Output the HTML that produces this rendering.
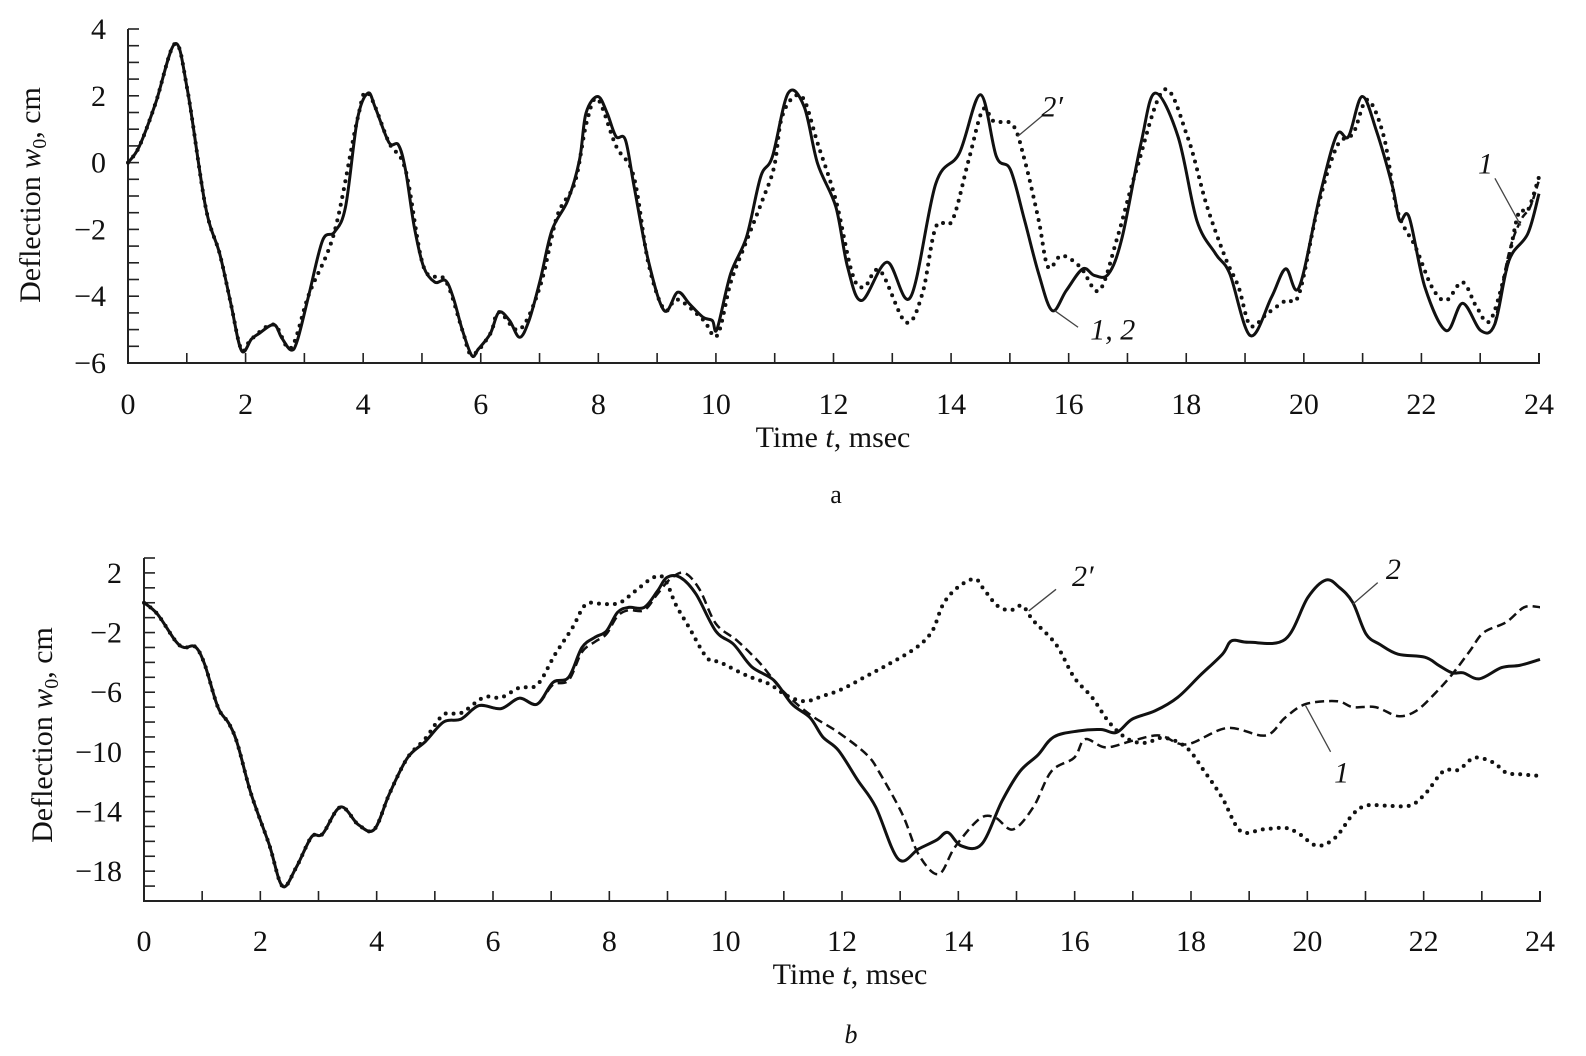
<!DOCTYPE html>
<html><head><meta charset="utf-8">
<style>
html,body{margin:0;padding:0;background:#fff;}
svg{display:block;}
text{font-family:"Liberation Serif",serif;fill:#111;}
</style></head>
<body>
<svg id="fig" width="1586" height="1056" viewBox="0 0 1586 1056" xmlns="http://www.w3.org/2000/svg">
<g id="chartA"></g>
<g id="chartB"></g>
</svg>
<script>
// ---------- Chart a data ----------
const aSolidT=[0,.19,.47,.8,1.01,1.32,1.56,1.75,1.93,2.1,2.22,2.48,2.61,2.77,2.88,3.08,3.31,3.51,3.7,3.9,4.08,4.21,4.44,4.6,4.72,4.87,5.03,5.22,5.4,5.53,5.69,5.85,5.96,6.16,6.31,6.49,6.66,6.82,7.01,7.21,7.48,7.68,7.79,7.99,8.15,8.3,8.46,8.61,8.85,9.12,9.35,9.55,9.78,9.94,10.02,10.25,10.52,10.76,10.96,11.23,11.5,11.73,12.04,12.24,12.48,12.91,13.31,13.74,14.14,14.5,14.77,15.01,15.25,15.49,15.72,15.96,16.24,16.44,16.68,16.91,17.23,17.47,17.86,18.18,18.5,18.74,19.09,19.45,19.69,19.92,20.28,20.56,20.76,20.99,21.23,21.51,21.63,21.79,22.06,22.42,22.7,23.01,23.25,23.49,23.81,24];
const aSolidW=[0,.48,1.78,3.56,2.18,-1.33,-2.73,-4.23,-5.63,-5.28,-5.13,-4.85,-5.23,-5.61,-5.33,-3.93,-2.33,-2.08,-1.33,1.28,2.08,1.63,.6,.53,-.22,-1.93,-3.13,-3.58,-3.53,-4.03,-5.03,-5.78,-5.58,-5.13,-4.48,-4.73,-5.23,-4.73,-3.53,-2.03,-1.13,.08,1.48,1.98,1.48,.78,.68,-.73,-2.93,-4.43,-3.88,-4.23,-4.63,-4.73,-4.98,-3.33,-2.23,-.43,.18,2.08,1.68,-.03,-1.33,-3.13,-4.13,-2.98,-4.03,-.63,.28,2.03,.18,-.22,-1.73,-3.33,-4.43,-3.83,-3.18,-3.38,-3.33,-2.23,.58,2.08,.78,-1.73,-2.73,-3.33,-5.18,-4.03,-3.18,-3.73,-.93,.83,.78,1.98,.98,-.73,-1.73,-1.63,-3.73,-5.03,-4.21,-5.03,-4.83,-2.93,-2.13,-.93];
const aDashT=[23.25,23.49,23.69,23.85,24];
const aDashW=[-4.83,-2.7,-1.73,-1.33,-.53];
const aDotT=[0,.19,.47,.8,1.01,1.32,1.56,1.75,1.93,2.1,2.48,2.77,3.08,3.51,3.9,4.08,4.44,4.72,5.03,5.4,5.69,5.85,6.16,6.31,6.66,7.01,7.3,7.6,7.8,7.99,8.3,8.6,8.85,9.12,9.35,9.78,10.02,10.25,10.48,10.79,10.99,11.11,11.3,11.5,11.73,12.04,12.32,12.52,12.79,13.23,13.51,13.74,14.02,14.3,14.54,14.73,15.05,15.25,15.49,15.65,15.88,16.2,16.52,16.83,17.15,17.62,18.02,18.34,18.66,18.89,19.09,19.37,19.69,19.92,20.24,20.56,20.84,21.08,21.36,21.59,21.9,22.18,22.42,22.7,22.94,23.17,23.45,23.65,23.81,24];
const aDotW=[0,.48,1.78,3.56,2.18,-1.33,-2.73,-4.23,-5.6,-5.28,-4.85,-5.55,-3.93,-2.08,1.28,2.08,.6,-.22,-3.13,-3.53,-5.03,-5.75,-5.13,-4.48,-5.0,-3.7,-1.6,-.6,1.2,1.9,.5,-.4,-3.0,-4.4,-4.1,-4.7,-5.18,-3.6,-2.53,-1.13,-.13,1.28,1.93,1.88,.58,-1.13,-3.33,-3.73,-3.23,-4.78,-3.93,-1.93,-1.73,.08,1.58,1.23,1.13,.08,-1.73,-3.13,-2.78,-3.13,-3.83,-2.23,-.23,2.18,.78,-1.23,-2.83,-3.73,-4.88,-4.53,-4.13,-3.93,-1.33,.48,.88,1.88,.78,-1.43,-2.53,-3.73,-4.13,-3.58,-4.33,-4.73,-3.13,-1.53,-1.43,-.43];
const aYTicks=[4,2,0,-2,-4,-6];
const aXTicks=[0,2,4,6,8,10,12,14,16,18,20,22,24];

// ---------- Chart b data ----------
const bSolidT=[0,.23,.54,.69,.88,1.04,1.27,1.46,1.61,1.84,2.15,2.38,2.61,2.88,3.07,3.38,3.69,3.96,4.22,4.53,4.84,5.15,5.45,5.76,6.14,6.45,6.76,7.03,7.3,7.53,7.76,7.95,8.14,8.33,8.6,8.83,8.99,9.22,9.49,9.83,10.14,10.45,10.83,11.14,11.45,11.67,11.94,12.27,12.58,12.97,13.32,13.63,13.82,14.05,14.4,14.75,15.06,15.37,15.64,16.06,16.45,16.72,16.99,17.38,17.77,18.15,18.54,18.7,19,19.62,20.01,20.32,20.55,20.78,21.01,21.25,21.56,22.02,22.26,22.49,22.68,22.96,23.34,23.65,24];
const bSolidW=[0,-.76,-2.55,-3,-2.95,-4.1,-7,-8.1,-9.5,-12.8,-16.2,-19,-17.8,-15.7,-15.5,-13.7,-14.9,-15.2,-12.8,-10.4,-9.3,-8,-7.8,-6.9,-7.1,-6.4,-6.8,-5.35,-5,-3,-2.3,-1.9,-.65,-.31,-.31,.8,1.7,1.7,.58,-1.9,-2.8,-4.3,-5.2,-6.8,-7.7,-9,-9.9,-11.9,-13.7,-17.2,-16.5,-15.9,-15.4,-16.3,-16.2,-13.3,-11.3,-10.2,-9,-8.6,-8.5,-8.7,-7.8,-7.25,-6.35,-4.9,-3.45,-2.55,-2.65,-2.45,.36,1.52,1.03,.02,-2.1,-2.8,-3.45,-3.65,-4.2,-4.7,-4.7,-5.1,-4.35,-4.2,-3.8];
const bDashT=[0,.23,.54,.69,.88,1.04,1.27,1.46,1.61,1.84,2.15,2.38,2.61,2.88,3.07,3.38,3.69,3.96,4.22,4.53,4.84,5.15,5.45,5.76,6.14,6.45,6.76,7.03,7.3,7.53,7.76,7.95,8.14,8.33,8.6,8.83,9.05,9.29,9.55,9.83,10.2,10.6,10.98,11.45,11.94,12.43,12.66,13.04,13.32,13.66,13.94,14.36,14.63,14.94,15.29,15.6,15.99,16.18,16.53,17,17.46,17.92,18.62,19.28,19.62,19.97,20.51,20.78,21.17,21.56,21.87,22.19,22.49,22.8,23.03,23.42,23.73,24];
const bDashW=[0,-.76,-2.55,-3,-2.95,-4.1,-7,-8.1,-9.5,-12.8,-16.2,-19,-17.8,-15.7,-15.5,-13.7,-14.9,-15.2,-12.8,-10.4,-9.3,-8,-7.8,-6.9,-7.1,-6.4,-6.8,-5.5,-5.2,-3.3,-2.6,-2.1,-.9,-.5,-.5,.6,1.6,2.0,.9,-1.4,-2.55,-4.1,-5.9,-7.5,-8.7,-10.2,-11.5,-14.2,-16.9,-18.2,-16.4,-14.5,-14.4,-15.2,-13.7,-11.3,-10.4,-9.15,-9.7,-9.25,-8.9,-9.5,-8.4,-8.9,-7.7,-6.8,-6.6,-7,-7,-7.6,-7.25,-6.1,-4.8,-3.2,-2,-1.3,-.3,-.3];
const bDotT=[0,.23,.54,.69,.88,1.04,1.27,1.46,1.61,1.84,2.15,2.38,2.61,2.88,3.07,3.38,3.69,3.96,4.22,4.53,4.84,5.15,5.45,5.84,6.14,6.45,6.76,7.07,7.37,7.6,7.91,8.18,8.45,8.76,8.95,9.14,9.37,9.68,9.91,10.37,10.75,11.06,11.37,11.67,12,12.43,12.81,13.28,13.55,13.74,13.98,14.28,14.44,14.67,14.9,15.1,15.29,15.68,15.99,16.3,16.61,16.92,17.22,17.53,17.92,18.23,18.54,18.85,19.24,19.62,19.86,20.17,20.48,20.78,21.01,21.33,21.76,22.03,22.34,22.6,22.87,23.19,23.42,23.65,23.96];
const bDotW=[0,-.76,-2.55,-3,-2.95,-4.1,-7,-8.1,-9.5,-12.8,-16.2,-19,-17.8,-15.7,-15.5,-13.7,-14.9,-15.2,-12.8,-10.4,-9.1,-7.5,-7.4,-6.35,-6.35,-5.7,-5.5,-3.45,-1.65,-.1,-.1,0,.8,1.7,1.6,-.1,-1.65,-3.7,-4,-4.9,-5.45,-6.25,-6.6,-6.25,-5.8,-4.9,-4.1,-3,-1.9,-.1,1,1.6,.9,-.2,-.5,-.2,-1.2,-2.8,-5,-6.35,-8.1,-9.15,-9.4,-9.05,-9.7,-11.3,-13.1,-15.3,-15.2,-15.1,-15.5,-16.3,-15.75,-14.2,-13.6,-13.6,-13.6,-12.8,-11.3,-11.2,-10.4,-10.7,-11.4,-11.5,-11.6];
const bYTicks=[2,-2,-6,-10,-14,-18];
const bXTicks=[0,2,4,6,8,10,12,14,16,18,20,22,24];

const NS="http://www.w3.org/2000/svg";
function mk(parent,tag,attrs,txt){const e=document.createElementNS(NS,tag);for(const k in attrs)e.setAttribute(k,attrs[k]);if(txt!==undefined)e.textContent=txt;parent.appendChild(e);return e;}
function smoothPath(pts){
  let d="M"+pts[0][0].toFixed(1)+","+pts[0][1].toFixed(1);
  for(let i=0;i<pts.length-1;i++){
    const p0=pts[Math.max(0,i-1)],p1=pts[i],p2=pts[i+1],p3=pts[Math.min(pts.length-1,i+2)];
    const c1=[p1[0]+(p2[0]-p0[0])/6,p1[1]+(p2[1]-p0[1])/6];
    const c2=[p2[0]-(p3[0]-p1[0])/6,p2[1]-(p3[1]-p1[1])/6];
    d+=" C"+c1[0].toFixed(1)+","+c1[1].toFixed(1)+" "+c2[0].toFixed(1)+","+c2[1].toFixed(1)+" "+p2[0].toFixed(1)+","+p2[1].toFixed(1);
  }
  return d;
}
function drawChart(g,cfg){
  const X=t=>cfg.x0+(cfg.x1-cfg.x0)*(t-cfg.tmin)/(cfg.tmax-cfg.tmin);
  const Y=w=>cfg.yb+(cfg.yt-cfg.yb)*(w-cfg.wmin)/(cfg.wmax-cfg.wmin);
  const ax=mk(g,"path",{d:`M${cfg.x0},${cfg.yt} V${cfg.yb} H${cfg.x1} V${cfg.yb-10}`,fill:"none",stroke:"#222","stroke-width":2});
  
  
  for(let t=cfg.tmin;t<=cfg.tmax;t+=1){
    const tk=mk(g,"line",{x1:X(t),x2:X(t),y1:cfg.yb,y2:cfg.yb-10,stroke:"#222","stroke-width":1.6});
    
    
  }
  for(let w=cfg.wmin;w<=cfg.wmax+1e-9;w+=cfg.ystep){
    const tk=mk(g,"line",{x1:cfg.x0,x2:cfg.x0+11,y1:Y(w),y2:Y(w),stroke:"#222","stroke-width":1.6});
    
    
  }
  cfg.xt.forEach(t=>{
    const e=mk(g,"text",{x:X(t),y:cfg.xly,"font-size":30,"text-anchor":"middle"},String(t));
    
    
  });
  cfg.yt_.forEach(w=>{
    const e=mk(g,"text",{x:cfg.ylx,y:Y(w)+10,"font-size":30,"text-anchor":"end"},w<0?"\u2212"+Math.abs(w):String(w));
    
    
  });
  const xt=mk(g,"text",{x:cfg.xtx,y:cfg.xty,"font-size":30,"text-anchor":"middle"});
  xt.innerHTML='Time <tspan font-style="italic">t</tspan>, msec';
  
  
  const yt=mk(g,"text",{x:0,y:0,"font-size":30,"text-anchor":"middle",transform:`translate(${cfg.ytx},${cfg.yty}) rotate(-90)`});
  yt.innerHTML='Deflection <tspan font-style="italic">w</tspan><tspan font-size="20" dy="6">0</tspan><tspan dy="-6">, cm</tspan>';
  
  
  const cap=mk(g,"text",{x:cfg.capx,y:cfg.capy,"font-size":26,"text-anchor":"middle","font-style":cfg.capItalic?"italic":"normal"},cfg.cap);
  
  
  cfg.series.forEach(s=>{
    const pts=s.t.map((t,i)=>[X(t),Y(s.w[i])]);
    const p=mk(g,"path",{d:smoothPath(pts),fill:"none",stroke:"#111","stroke-width":s.sw,"stroke-dasharray":s.dash||"","stroke-linecap":s.cap||"butt","stroke-linejoin":"round"});
    
    
  });
  cfg.labels.forEach(l=>{
    const ln=mk(g,"line",{x1:X(l.a[0]),y1:Y(l.a[1]),x2:X(l.b[0]),y2:Y(l.b[1]),stroke:"#444","stroke-width":1.3});
    
    
    const tx=mk(g,"text",{x:X(l.p[0]),y:Y(l.p[1])+10,"font-size":30,"font-style":"italic","text-anchor":"middle"},l.txt);
    
    
  });
}
drawChart(document.getElementById("chartA"),{
  x0:128,x1:1539,yt:29,yb:363,tmin:0,tmax:24,wmin:-6,wmax:4,ystep:0.5,
  xt:aXTicks,yt_:aYTicks,xly:414,ylx:106,xtx:833,xty:447,ytx:40,yty:195,
  cap:"a",capx:836,capy:503,capItalic:false,
  series:[
    {t:aDotT,w:aDotW,sw:4,dash:"0 8",cap:"round",name:"series-2prime-dotted"},
    {t:aDashT,w:aDashW,sw:2.5,dash:"7 4",name:"series-1-dashed"},
    {t:aSolidT,w:aSolidW,sw:3,name:"series-1-2-solid"}
  ],
  labels:[
    {txt:"2\u2032",p:[15.72,1.68],a:[15.57,1.43],b:[15.13,0.78]},
    {txt:"1, 2",p:[16.75,-5.0],a:[16.16,-4.93],b:[15.76,-4.43]},
    {txt:"1",p:[23.09,-0.02],a:[23.25,-0.47],b:[23.69,-1.88]}
  ]
});
drawChart(document.getElementById("chartB"),{
  x0:144,x1:1540,yt:558,yb:901,tmin:0,tmax:24,wmin:-20,wmax:3,ystep:1,
  xt:bXTicks,yt_:bYTicks,xly:951,ylx:122,xtx:850,xty:984,ytx:52,yty:735,
  cap:"b",capx:851,capy:1043,capItalic:true,
  series:[
    {t:bDotT,w:bDotW,sw:4,dash:"0 8",cap:"round",name:"series-2prime-dotted"},
    {t:bDashT,w:bDashW,sw:2.5,dash:"9 5",name:"series-1-dashed"},
    {t:bSolidT,w:bSolidW,sw:3,name:"series-2-solid"}
  ],
  labels:[
    {txt:"2\u2032",p:[16.14,1.8],a:[15.68,0.9],b:[15.21,-0.55]},
    {txt:"2",p:[21.48,2.25],a:[21.21,1.35],b:[20.78,-0.1]},
    {txt:"1",p:[20.59,-11.4],a:[20.4,-10.0],b:[19.97,-6.9]}
  ]
});
</script>
</body></html>
